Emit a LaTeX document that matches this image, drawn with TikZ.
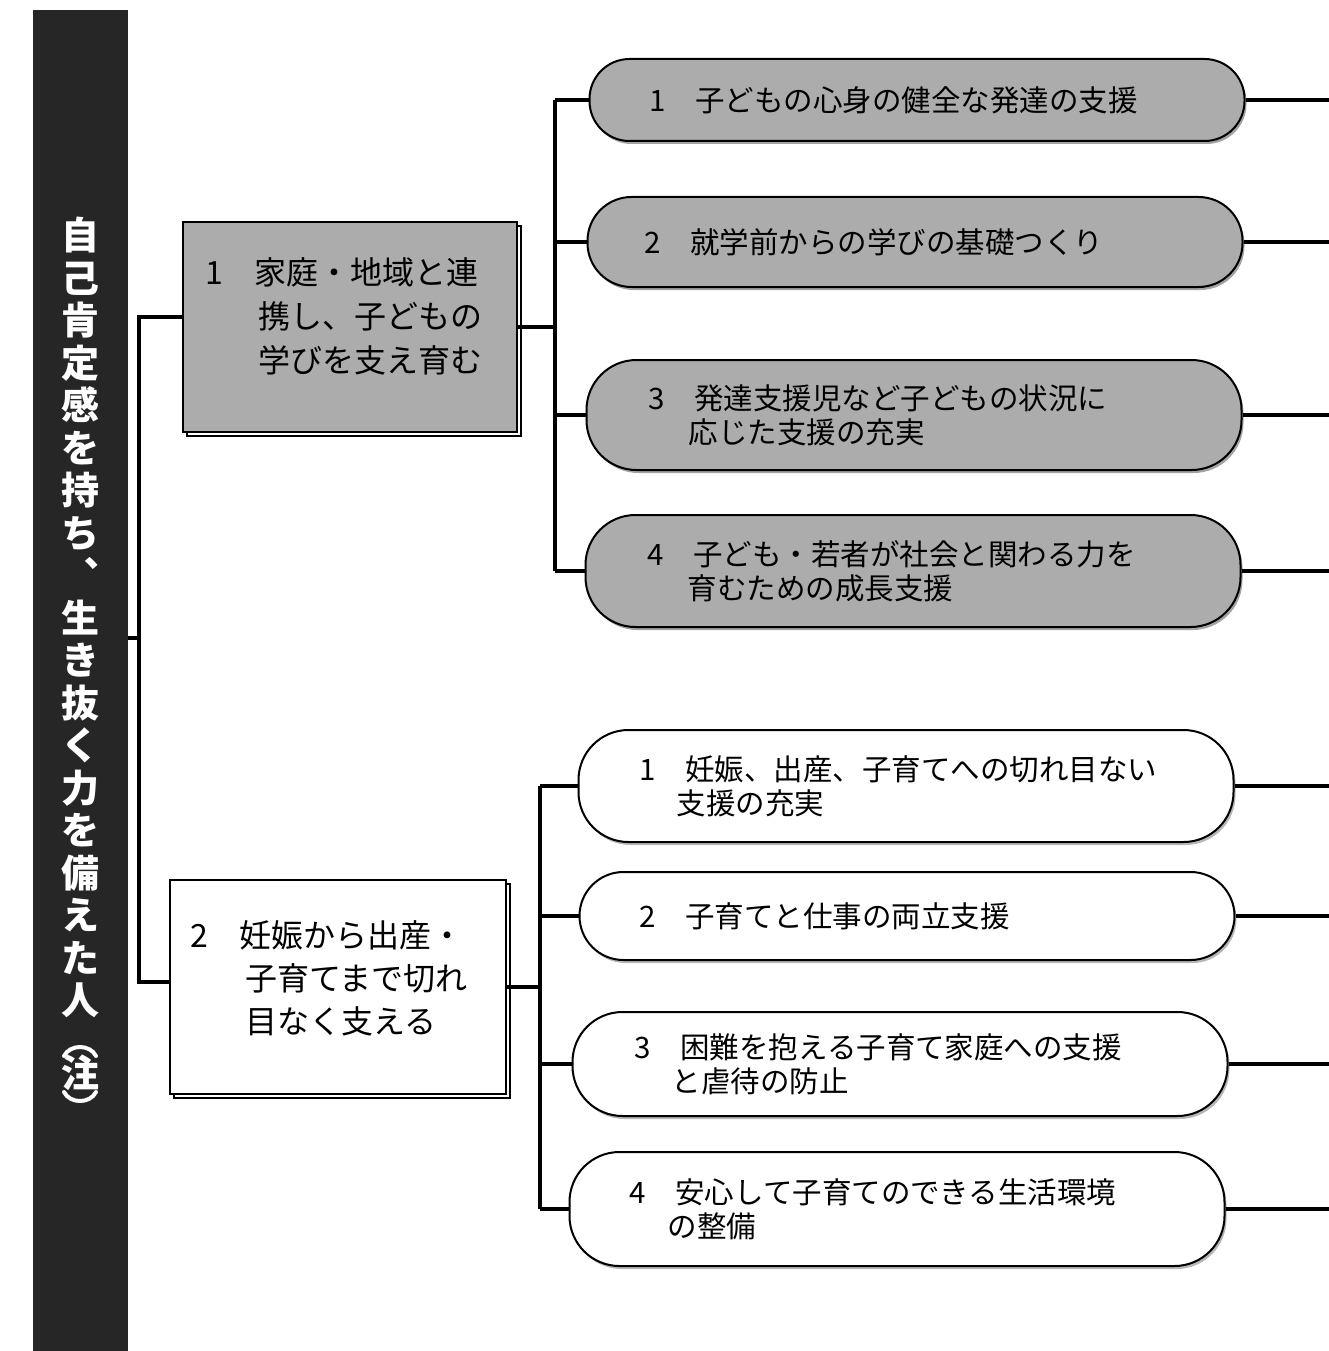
\documentclass[tikz,border=0pt]{standalone}
\usepackage{fontspec}
\setmainfont{Noto Sans CJK JP}
\usetikzlibrary{shadows}
\definecolor{bardark}{RGB}{38,38,38}
\definecolor{pillgray}{RGB}{172,172,172}
\begin{document}
\begin{tikzpicture}[x=1pt,y=-1pt,
  conn/.style={line width=3.4pt},
  pillbase/.style={draw=black, line width=2pt, minimum width=655pt, align=left, inner sep=0pt,
    font=\fontsize{29.5}{34}\selectfont},
  graypill/.style={pillbase, fill=pillgray,
    drop shadow={shadow xshift=2pt,shadow yshift=-3pt,fill=black!45,opacity=.8}},
  whitepill/.style={pillbase, fill=white,
    drop shadow={shadow xshift=2pt,shadow yshift=-3pt,fill=black!40,opacity=.7}},
  rad/.style={rounded corners=#1},
  mainbox/.style={draw=black, line width=2pt, align=left, inner sep=0pt,
    font=\fontsize{32}{44}\selectfont,
    copy shadow={shadow xshift=4pt,shadow yshift=-4pt,fill=white,draw=black,line width=1.4pt}},
  bartxt/.style={font=\fontsize{38}{42.5}\selectfont\bfseries, text=white, align=center, inner sep=0pt},
  parenarc/.style={draw=white, line width=4pt, line cap=round}
]
\useasboundingbox (0,0) rectangle (1329,1351);

% left bar
\node[fill=bardark, minimum width=95pt, minimum height=1345pt, inner sep=0pt, anchor=north west] (bar) at (33,10) {};
\node[bartxt, anchor=north] (bartext) at (80,217) {自\\己\\肯\\定\\感\\を\\持\\ち\\︑\\生\\き\\抜\\く\\力\\を\\備\\え\\た\\人};
\node[bartxt] (chu) at (80,1073) {注};
% vertical-form parentheses around 注
\draw[parenarc] ([shift={(-16pt,17pt)}]chu.center) .. controls ([shift={(-10pt,29pt)}]chu.center) and ([shift={(10pt,29pt)}]chu.center) .. ([shift={(16pt,17pt)}]chu.center);
\draw[parenarc] ([shift={(-16pt,-19pt)}]chu.center) .. controls ([shift={(-10pt,-31pt)}]chu.center) and ([shift={(10pt,-31pt)}]chu.center) .. ([shift={(16pt,-19pt)}]chu.center);

% main boxes
\node[mainbox, text depth=112pt, fill=pillgray, minimum width=334pt, minimum height=210pt, text width=290pt] (box1) at (350,327)
  {1　家庭・地域と連\\\hspace*{53pt}携し、子どもの\\\hspace*{53pt}学びを支え育む};
\node[mainbox, text depth=106pt, fill=white, minimum width=336pt, minimum height=214pt, text width=296pt, font=\fontsize{32}{43}\selectfont] (box2) at (338,987)
  {2　妊娠から出産・\\\hspace*{55pt}子育てまで切れ\\\hspace*{55pt}目なく支える};

% gray pills
\node[graypill, rad=40pt, minimum height=82pt, text width=535pt] (g1) at (917,100) {1　子どもの心身の健全な発達の支援};
\node[graypill, rad=44pt, minimum height=90pt, text width=541pt] (g2) at (915,242) {2　就学前からの学びの基礎つくり};
\node[graypill, rad=50pt, minimum height=110pt, text width=531pt] (g3) at (914,415)
  {3　発達支援児など子どもの状況に\\\hspace*{40pt}応じた支援の充実};
\node[graypill, rad=50pt, minimum height=112pt, text width=531pt] (g4) at (913,571)
  {4　子ども・若者が社会と関わる力を\\\hspace*{40pt}育むための成長支援};

% white pills
\node[whitepill, rad=50pt, minimum height=112pt, text width=533pt] (w1) at (906,786)
  {1　妊娠、出産、子育てへの切れ目ない\\\hspace*{37pt}支援の充実};
\node[whitepill, rad=44pt, minimum height=88pt, text width=535pt] (w2) at (907,916) {2　子育てと仕事の両立支援};
\node[whitepill, rad=50pt, minimum height=104pt, text width=531pt] (w3) at (900,1064)
  {3　困難を抱える子育て家庭への支援\\\hspace*{37pt}と虐待の防止};
\node[whitepill, rad=50pt, minimum height=114pt, text width=535pt] (w4) at (897,1209)
  {4　安心して子育てのできる生活環境\\\hspace*{38pt}の整備};

% coordinates for spines and the right edge
\coordinate (spineL) at (139,638);
\coordinate (sA) at (555,0);
\coordinate (sB) at (540,0);
\coordinate (rEdge) at (1329,0);

% left connectors
\draw[conn] (bar.east |- spineL) -- (spineL);
\draw[conn] ([yshift=10pt]box1.west) -| (spineL) |- ([yshift=5pt]box2.west);

% gray group
\draw[conn] (box1.east) -- (box1.east -| sA);
\draw[conn] (g1.west -| sA) -- (g4.west -| sA);
\foreach \p in {g1,g2,g3,g4} \draw[conn] (\p.west -| sA) -- (\p.west);

% white group
\draw[conn] (box2.east) -- (box2.east -| sB);
\draw[conn] (w1.west -| sB) -- (w4.west -| sB);
\foreach \p in {w1,w2,w3,w4} \draw[conn] (\p.west -| sB) -- (\p.west);

% right stubs
\foreach \p in {g1,g2,g3,g4,w1,w2,w3,w4} \draw[conn] (\p.east) -- (\p.east -| rEdge);
\end{tikzpicture}
\end{document}
